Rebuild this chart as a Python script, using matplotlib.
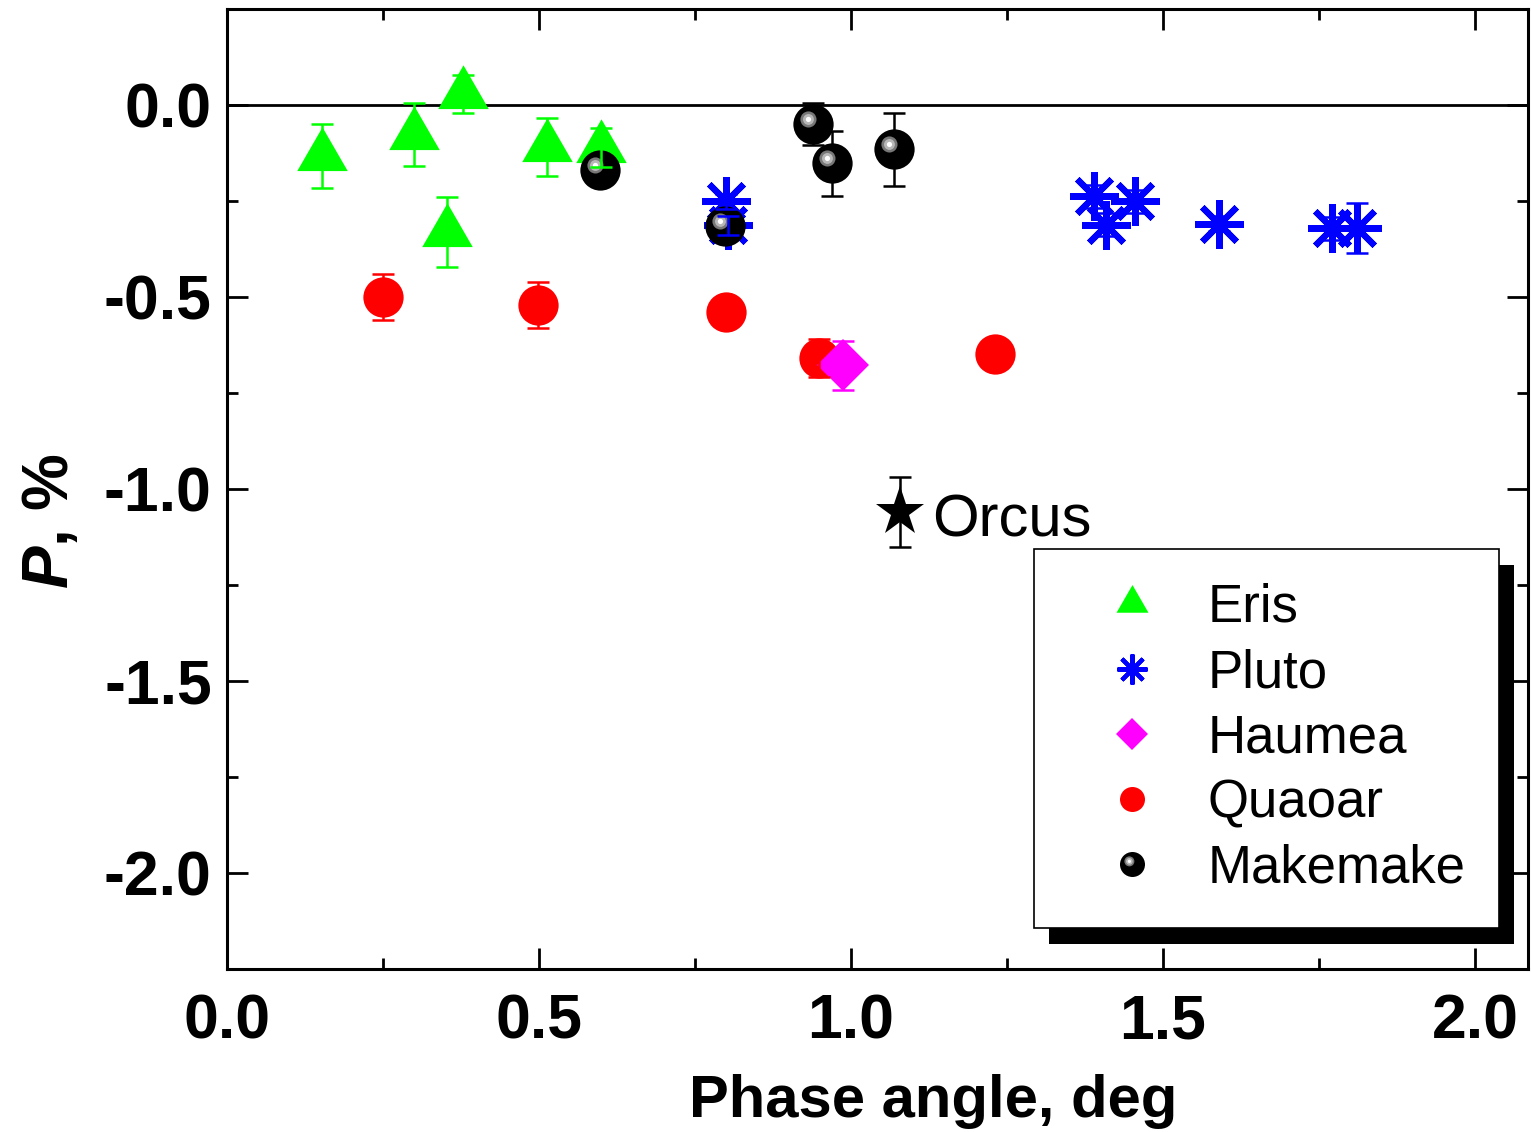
import numpy as np
import matplotlib
matplotlib.use("Agg")
import matplotlib.pyplot as plt
from matplotlib.path import Path
from matplotlib.lines import Line2D
from matplotlib.legend_handler import HandlerTuple
from matplotlib.patches import Rectangle
from matplotlib.ticker import MultipleLocator, FormatStrFormatter

# data
eris_x = [0.152, 0.300, 0.378, 0.353, 0.513, 0.600]
eris_y = [-0.133, -0.077, 0.029, -0.330, -0.110, -0.111]
eris_err = [0.083, 0.082, 0.049, 0.091, 0.076, 0.050]

pluto_x = [0.800, 0.803, 1.389, 1.409, 1.455, 1.589, 1.771, 1.811]
pluto_y = [-0.251, -0.313, -0.238, -0.312, -0.251, -0.309, -0.321, -0.321]
pluto_err = [0.02, 0.025, 0.03, 0.03, 0.03, 0.02, 0.03, 0.065]

haumea_x = [0.987]
haumea_y = [-0.678]
haumea_err = [0.063]

quaoar_x = [0.250, 0.499, 0.799, 0.948, 1.230]
quaoar_y = [-0.501, -0.520, -0.539, -0.659, -0.649]
quaoar_err = [0.06, 0.06, 0.02, 0.05, 0.02]

makemake_x = [0.598, 0.798, 0.939, 0.969, 1.069]
makemake_y = [-0.169, -0.316, -0.049, -0.152, -0.115]
makemake_err = [0.02, 0.03, 0.054, 0.085, 0.095]

orcus_x = [1.079]
orcus_y = [-1.061]
orcus_err = [0.091]

labels = ['Eris', 'Pluto', 'Haumea', 'Quaoar', 'Makemake']

plt.rcParams['font.family'] = ['Liberation Sans', 'DejaVu Sans']
plt.rcParams['axes.unicode_minus'] = False
plt.rcParams['mathtext.fontset'] = 'custom'
plt.rcParams['mathtext.rm'] = 'Liberation Sans'
plt.rcParams['mathtext.bf'] = 'Liberation Sans:bold'
plt.rcParams['mathtext.bfit'] = 'Liberation Sans:italic:bold'

GREEN, BLUE, MAGENTA, RED = '#00ff00', '#0000ff', '#ff00ff', '#ff0000'
tri = [(0, 1), (-0.866, -0.5), (0.866, -0.5)]
ast = (8, 2, 0)


def hl_marker(r):
    # small highlight circle offset up-left, normalised to the sphere size
    c = Path.circle((-0.25, 0.25), r)
    verts = np.vstack([c.vertices, [[1.0, 0.0]]])
    codes = np.concatenate([c.codes, [Path.MOVETO]])
    return Path(verts, codes)


highlights = [(0.40, '#787878'), (0.27, '#b8b8b8'), (0.13, '#ffffff')]

fig = plt.figure(figsize=(15.31, 11.32), dpi=100)
ax = fig.add_axes([0.1483, 0.1440, 0.8498, 0.8481])

ax.axhline(0, color='black', lw=2, zorder=1)

ax.plot(eris_x, eris_y, ls='none', marker=tri, ms=42, color=GREEN, mew=0, zorder=3)
ax.plot(pluto_x, pluto_y, ls='none', marker=ast, ms=35, color=BLUE, mew=4.5, zorder=3.1)
ax.plot(quaoar_x, quaoar_y, ls='none', marker='o', ms=29, color=RED, mew=0, zorder=3.2)
ax.plot(haumea_x, haumea_y, ls='none', marker='D', ms=26.5, color=MAGENTA, mew=0, zorder=3.3)
ax.plot(orcus_x, orcus_y, ls='none', marker='*', ms=37, color='black', mew=0, zorder=3.3)
ax.errorbar(makemake_x, makemake_y, yerr=makemake_err, fmt='none', ecolor='black',
            elinewidth=1.8, capsize=8, capthick=1.8, zorder=3.35)
ax.plot(makemake_x, makemake_y, ls='none', marker='o', ms=29, color='black', mew=0, zorder=3.4)
for r, c in highlights:
    ax.plot(makemake_x, makemake_y, ls='none', marker=hl_marker(r), ms=29, color=c,
            mew=0, zorder=3.45)

for xs, ys, es, col in [(eris_x, eris_y, eris_err, GREEN),
                        (pluto_x, pluto_y, pluto_err, BLUE),
                        (quaoar_x, quaoar_y, quaoar_err, RED),
                        (haumea_x, haumea_y, haumea_err, MAGENTA),
                        (orcus_x, orcus_y, orcus_err, 'black')]:
    ax.errorbar(xs, ys, yerr=es, fmt='none', ecolor=col, elinewidth=1.8,
                capsize=8, capthick=1.8, zorder=4)

ax.annotate('Orcus', xy=(orcus_x[0], orcus_y[0]), xytext=(23, -6),
            textcoords='offset points', fontsize=43, va='center', ha='left')

ax.set_xlim(0, 2.085)
ax.set_ylim(-2.25, 0.25)
ax.xaxis.set_major_locator(MultipleLocator(0.5))
ax.xaxis.set_minor_locator(MultipleLocator(0.25))
ax.yaxis.set_major_locator(MultipleLocator(0.5))
ax.yaxis.set_minor_locator(MultipleLocator(0.25))
ax.xaxis.set_major_formatter(FormatStrFormatter('%.1f'))
ax.yaxis.set_major_formatter(FormatStrFormatter('%.1f'))
ax.tick_params(which='both', direction='in', top=True, right=True, width=2)
ax.tick_params(which='major', length=15, labelsize=45)
ax.tick_params(which='minor', length=8)
ax.tick_params(axis='x', pad=17)
ax.tick_params(axis='y', pad=11)
for lab in ax.get_xticklabels() + ax.get_yticklabels():
    lab.set_fontweight('bold')
for sp in ax.spines.values():
    sp.set_linewidth(2.2)

ax.set_xlabel('Phase angle, deg', fontsize=43, fontweight='bold')
ax.xaxis.label.set_va('baseline')
ax.xaxis.set_label_coords(0.543, -0.154)
ax.set_ylabel(r'$\mathbfit{P}$, %', fontsize=46, fontweight='bold')
ax.yaxis.set_label_coords(-0.112, 0.466)

handles = [
    Line2D([], [], ls='none', marker=tri, ms=26.6, color=GREEN, mew=0),
    Line2D([], [], ls='none', marker=ast, ms=21.6, color=BLUE, mew=3.0),
    Line2D([], [], ls='none', marker='D', ms=16.3, color=MAGENTA, mew=0),
    Line2D([], [], ls='none', marker='o', ms=18, color=RED, mew=0),
    tuple([Line2D([], [], ls='none', marker='o', ms=18, color='black', mew=0)]
          + [Line2D([], [], ls='none', marker=hl_marker(r), ms=18, color=c, mew=0)
             for r, c in highlights]),
]
leg = ax.legend(handles, labels, handler_map={tuple: HandlerTuple()},
                loc='upper left', bbox_to_anchor=(0.620, 0.4375), borderaxespad=0,
                fontsize=38, frameon=True, fancybox=False, edgecolor='black',
                framealpha=1, borderpad=0.64, handlelength=2.45, handletextpad=0.2,
                labelspacing=0.29)
leg.get_frame().set_linewidth(1.2)

# Origin-style solid black drop shadow
fig.canvas.draw()
bb = leg.get_window_extent()
inv = ax.transAxes.inverted()
(x0, y0), (x1, y1) = inv.transform([[bb.x0 + 15, bb.y0 - 16], [bb.x1 + 15, bb.y1 - 16]])
ax.add_patch(Rectangle((x0, y0), x1 - x0, y1 - y0, transform=ax.transAxes,
                       facecolor='black', edgecolor='none', zorder=4.9, clip_on=False))

fig.savefig('out.png', dpi=100)
